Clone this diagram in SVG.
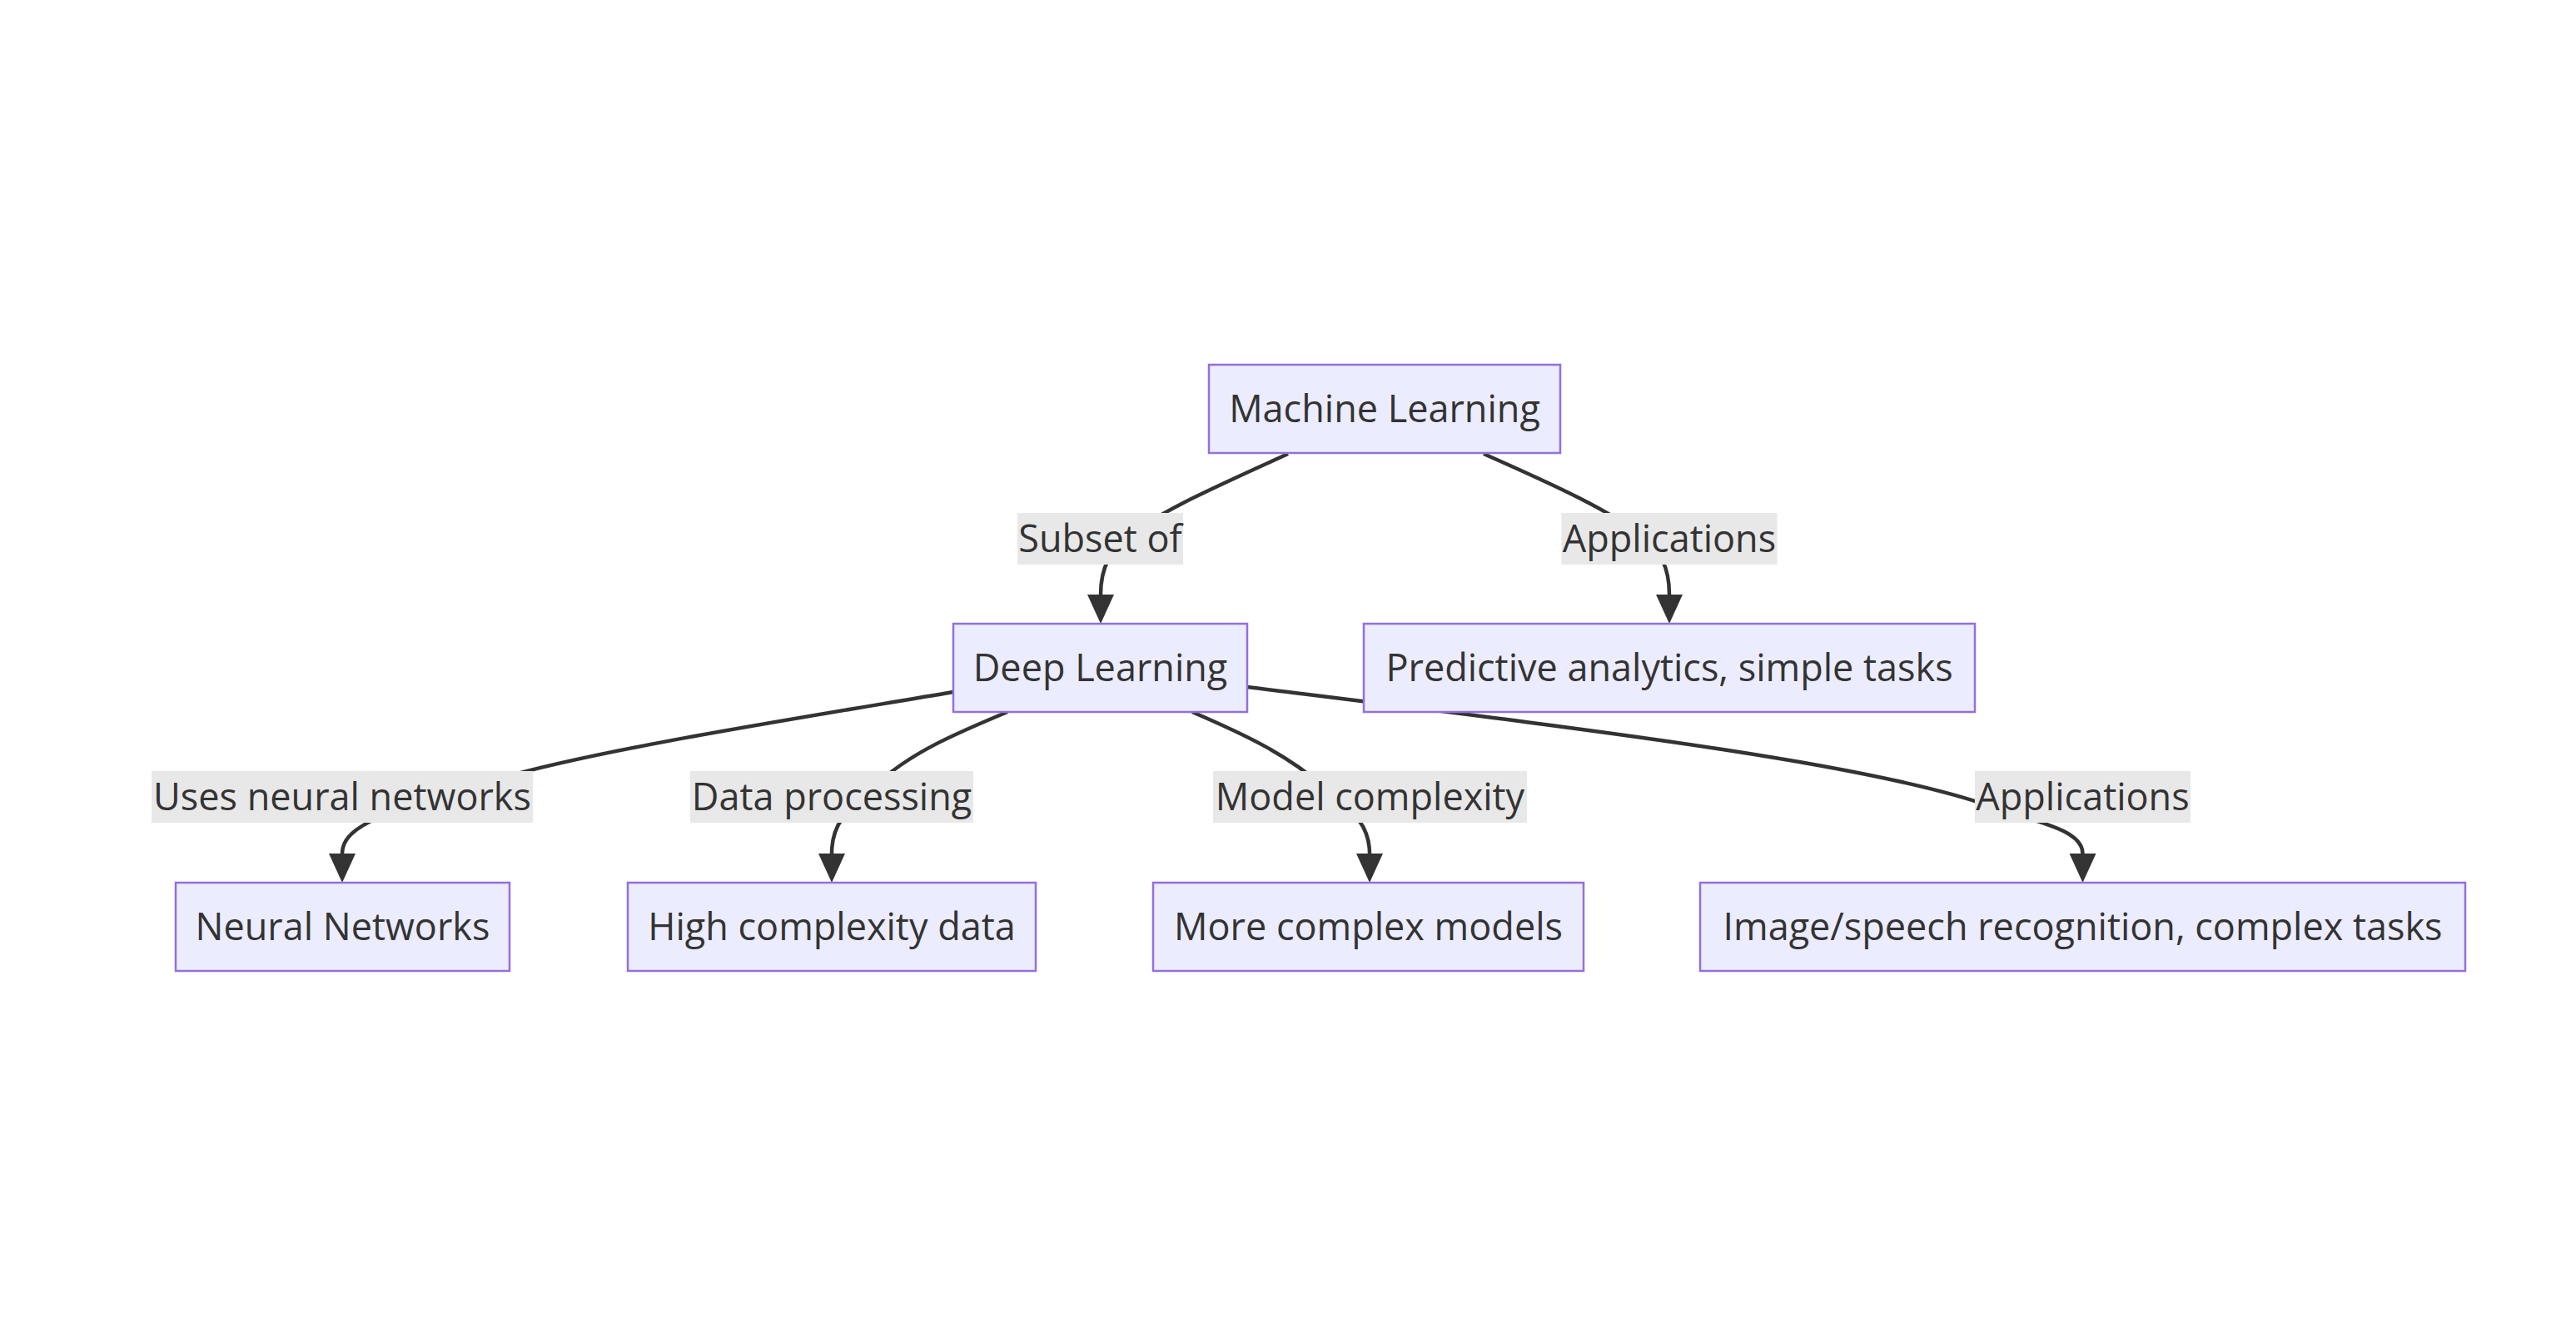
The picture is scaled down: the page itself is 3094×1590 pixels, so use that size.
<svg xmlns="http://www.w3.org/2000/svg" width="3094" height="1590" viewBox="0 0 3094 1590">
<style>
.node rect{fill:#ECECFF;stroke:#9370DB;stroke-width:2.5}
.lbl rect{fill:#E8E8E8}
text{font-family:"Open Sans","Liberation Sans",sans-serif;font-size:45px;fill:#333;text-anchor:middle}
.edge{fill:none;stroke:#333;stroke-width:4.5}
</style>
<defs>
<marker id="arr" markerUnits="userSpaceOnUse" viewBox="0 0 35 32" refX="0" refY="16" markerWidth="35" markerHeight="32" orient="auto">
<path d="M0,0 L35,16 L0,32 z" fill="#333"/>
</marker>
</defs>
<rect width="3094" height="1590" fill="#fff"/>
<g id="edges">
<path class="edge" marker-end="url(#arr)" d="M1547,545 C1460,585 1390,615 1355,645 C1335,660 1322,680 1322,714"/>
<path class="edge" marker-end="url(#arr)" d="M1782,545 C1868,583 1938,615 1973,645 C1993,660 2005,680 2005,714"/>
<path class="edge" marker-end="url(#arr)" d="M1145,831 C950,864 720,900 600,935 C470,972 411,990 411,1025"/>
<path class="edge" marker-end="url(#arr)" d="M1210,855 C1150,880 1090,905 1050,945 C1015,975 999,990 999,1025"/>
<path class="edge" marker-end="url(#arr)" d="M1432,855 C1490,880 1545,905 1590,945 C1625,975 1645,990 1645,1025"/>
<path class="edge" marker-end="url(#arr)" d="M1498,825 C1900,875 2240,915 2390,968 C2440,986 2501.5,995 2501.5,1025"/>
</g>
<g id="edge-labels">
<g class="lbl" id="lbl-subset"><rect x="1222" y="616" width="199" height="62"/><text x="1321.5" y="663">Subset of</text></g>
<g class="lbl" id="lbl-app1"><rect x="1875.5" y="616" width="259" height="62"/><text x="2005" y="663">Applications</text></g>
<g class="lbl" id="lbl-uses"><rect x="182" y="926" width="458" height="62"/><text x="411" y="973">Uses neural networks</text></g>
<g class="lbl" id="lbl-data"><rect x="829" y="926" width="340" height="62"/><text x="999" y="973">Data processing</text></g>
<g class="lbl" id="lbl-model"><rect x="1457" y="926" width="377" height="62"/><text x="1645.5" y="973">Model complexity</text></g>
<g class="lbl" id="lbl-app2"><rect x="2372" y="926" width="259" height="62"/><text x="2501.5" y="973">Applications</text></g>
</g>
<g class="node" id="ML"><rect x="1452" y="438" width="422" height="106"/><text x="1663" y="507">Machine Learning</text></g>
<g class="node" id="DL"><rect x="1145" y="749" width="353" height="106"/><text x="1321.5" y="818">Deep Learning</text></g>
<g class="node" id="PA"><rect x="1638" y="749" width="734" height="106"/><text x="2005" y="818">Predictive analytics, simple tasks</text></g>
<g class="node" id="NN"><rect x="211" y="1060" width="401" height="106"/><text x="411.5" y="1129">Neural Networks</text></g>
<g class="node" id="HC"><rect x="754" y="1060" width="490" height="106"/><text x="999" y="1129">High complexity data</text></g>
<g class="node" id="MC"><rect x="1385" y="1060" width="517" height="106"/><text x="1643.5" y="1129">More complex models</text></g>
<g class="node" id="IS"><rect x="2042" y="1060" width="919" height="106"/><text x="2501.5" y="1129">Image/speech recognition, complex tasks</text></g>
</svg>
